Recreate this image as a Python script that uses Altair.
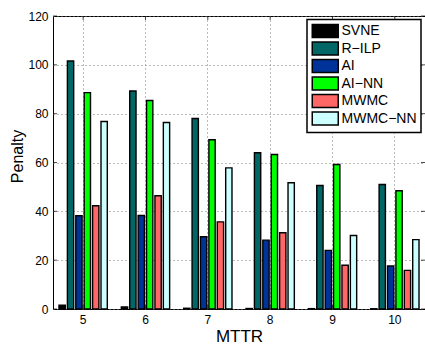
import altair as alt
import pandas as pd

# ---- data ----
mttr = [5, 6, 7, 8, 9, 10]
series = ["SVNE", "R\u2212ILP", "AI", "AI\u2212NN", "MWMC", "MWMC\u2212NN"]
colors = ["#000000", "#006666", "#003399", "#00ff00", "#ff6666", "#ccffff"]
svne = [1.6, 0.8, 0.3, 0.2, 0.15, 0.1]
r_ilp = [101.6, 89.3, 78.0, 64.0, 50.6, 51.0]
ai = [38.2, 38.3, 29.6, 28.2, 24.0, 17.6]
ai_nn = [88.6, 85.4, 69.3, 63.3, 59.2, 48.4]
mwmc = [42.3, 46.4, 35.7, 31.2, 17.9, 15.8]
mwmc_nn = [76.8, 76.4, 57.8, 51.7, 30.1, 28.4]
y_ticks = [0, 20, 40, 60, 80, 100, 120]

values = [svne, r_ilp, ai, ai_nn, mwmc, mwmc_nn]
rows = []
for s, vals in zip(series, values):
    for m, v in zip(mttr, vals):
        rows.append({"MTTR": m, "series": s, "Penalty": v})
df = pd.DataFrame(rows)

W, H = 372, 293
FONT = "Liberation Sans"

xscale = alt.Scale(paddingInner=0.225, paddingOuter=0.096)
yscale = alt.Scale(domain=[0, 120], nice=False, zero=True)

bars = alt.Chart(df).mark_bar(stroke="black", strokeWidth=1.4, opacity=1).encode(
    x=alt.X("MTTR:O", scale=xscale,
            axis=alt.Axis(title="MTTR", labelAngle=0, labelFontSize=12, labelPadding=5,
                          ticks=False, domain=False, grid=True, gridColor="#777",
                          gridDash=[1, 3], gridWidth=1, titleFontSize=17,
                          titleFontWeight="normal", titleY=32, titleBaseline="alphabetic",
                          labelColor="black", titleColor="black", labelFont=FONT,
                          titleFont=FONT)),
    xOffset=alt.XOffset("series:N", sort=series,
                        scale=alt.Scale(paddingInner=0.25, paddingOuter=0)),
    y=alt.Y("Penalty:Q", scale=yscale,
            axis=alt.Axis(title="Penalty", values=y_ticks, labelFontSize=12, labelPadding=5,
                          ticks=False, domain=False, grid=True, gridColor="#777",
                          gridDash=[1, 3], gridWidth=1, titleFontSize=16,
                          titleFontWeight="normal", titleX=-31, titleY=140,
                          titleAlign="center", titleBaseline="alphabetic", titleAngle=-90,
                          labelColor="black", titleColor="black", labelFont=FONT,
                          titleFont=FONT)),
    fill=alt.Fill("series:N", sort=series,
                  scale=alt.Scale(domain=series, range=colors),
                  legend=alt.Legend(orient="none", legendX=254, legendY=3.5, title=None,
                                    symbolType="M-2,-1H2V1H-2Z", symbolSize=169,
                                    symbolStrokeColor="black", symbolStrokeWidth=1.5,
                                    symbolOpacity=1, symbolOffset=6.75, labelOffset=8.75,
                                    labelFontSize=14, labelFont=FONT, labelColor="black",
                                    strokeColor="black", fillColor="white", padding=4,
                                    rowPadding=-1.5, cornerRadius=0)),
)

tick_df = pd.DataFrame({"v": y_ticks})
x_df = pd.DataFrame({"MTTR": mttr})

left_ticks = alt.Chart(tick_df).mark_tick(orient="horizontal", size=4, thickness=1,
                                          color="black").encode(
    y=alt.Y("v:Q", scale=yscale), x=alt.value(2))
right_ticks = alt.Chart(tick_df).mark_tick(orient="horizontal", size=4, thickness=1,
                                           color="black").encode(
    y=alt.Y("v:Q", scale=yscale), x=alt.value(W - 2))
bottom_ticks = alt.Chart(x_df).mark_tick(orient="vertical", size=4, thickness=1,
                                         color="black").encode(
    x=alt.X("MTTR:O", scale=xscale), y=alt.value(H - 2))
top_ticks = alt.Chart(x_df).mark_tick(orient="vertical", size=4, thickness=1,
                                      color="black").encode(
    x=alt.X("MTTR:O", scale=xscale), y=alt.value(2))

chart = alt.layer(bars, left_ticks, right_ticks, bottom_ticks, top_ticks).properties(
    width=W, height=H,
    autosize=alt.AutoSizeParams(type="none"),
    padding={"left": 53, "top": 16, "right": 0, "bottom": 35},
    background="white",
).configure_view(stroke="black", strokeWidth=1).configure_legend(strokeWidth=1.5)

chart.save("out.html", embed_options={"renderer": "svg", "actions": False})
